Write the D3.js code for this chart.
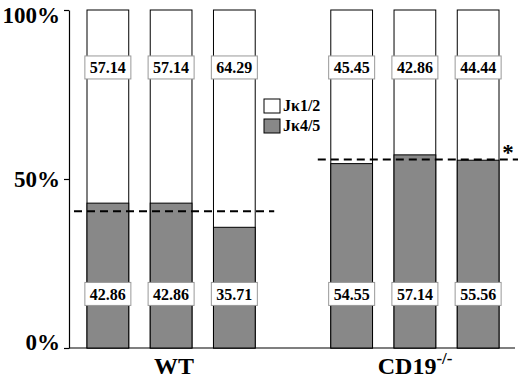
<!DOCTYPE html>
<html>
<head>
<meta charset="utf-8">
<script src="https://cdn.jsdelivr.net/npm/d3@7"></script>
<style>
  body { margin: 0; background: #fff; }
  text { font-family: "Liberation Serif", "Times New Roman", serif; font-weight: bold; }
</style>
</head>
<body>
<div id="chart"></div>
<script>
// data
var groups = ["WT", "CD19"];
var mice = ["m1", "m2", "m3"];
var wt_jk45 = [42.86, 42.86, 35.71];
var wt_jk12 = [57.14, 57.14, 64.29];
var cd19_jk45 = [54.55, 57.14, 55.56];
var cd19_jk12 = [45.45, 42.86, 44.44];
var y_ticks = [0, 50, 100];
var legend_labels = ["J\u03BA1/2", "J\u03BA4/5"];

var width = 520, height = 380;
var gray = "#888888";

var rows = [];
wt_jk45.forEach(function(v, i) {
    rows.push({group: "WT", mouse: mice[i], low: v, high: wt_jk12[i]});
});
cd19_jk45.forEach(function(v, i) {
    rows.push({group: "CD19", mouse: mice[i], low: v, high: cd19_jk12[i]});
});

var svg = d3.select("#chart").append("svg")
    .attr("width", width)
    .attr("height", height);

// scales
var y_scale = d3.scaleLinear().domain([0, 100]).range([348, 10]);
var x0 = d3.scaleBand().domain(groups).range([87, 499]).paddingInner(0.31);
var x1 = d3.scaleBand().domain(mice).range([0, x0.bandwidth()]).paddingInner(0.34);

// y axis
var y_axis = d3.axisLeft(y_scale)
    .tickValues(y_ticks)
    .tickFormat(function(d) { return d + "%"; })
    .tickSize(5)
    .tickSizeOuter(0)
    .tickPadding(4);

var ya = svg.append("g")
    .attr("transform", "translate(69,0)")
    .call(y_axis);
ya.selectAll("text")
    .style("font-size", "23px")
    .attr("fill", "#000");
ya.selectAll("text").filter(function(d) { return d === 100; }).attr("dy", "0.55em");
ya.selectAll("text").filter(function(d) { return d === 0; }).attr("dy", "0.05em");
ya.selectAll("line, path").attr("stroke", "#000").attr("stroke-width", 1.2);

// x baseline
svg.append("line")
    .attr("x1", 69).attr("x2", 515)
    .attr("y1", y_scale(0)).attr("y2", y_scale(0))
    .attr("stroke", "#000").attr("stroke-width", 1.2);

// bars
var bars = svg.append("g").selectAll("g")
    .data(rows)
    .enter().append("g")
    .attr("transform", function(d) { return "translate(" + (x0(d.group) + x1(d.mouse)) + ",0)"; });

bars.append("rect")
    .attr("x", 0)
    .attr("y", y_scale(100))
    .attr("width", x1.bandwidth())
    .attr("height", y_scale(0) - y_scale(100))
    .attr("fill", "#fff")
    .attr("stroke", "#000")
    .attr("stroke-width", 1);

bars.append("rect")
    .attr("x", 0)
    .attr("y", function(d) { return y_scale(d.low); })
    .attr("width", x1.bandwidth())
    .attr("height", function(d) { return y_scale(0) - y_scale(d.low); })
    .attr("fill", gray)
    .attr("stroke", "#000")
    .attr("stroke-width", 1);

// value boxes
var box_w = 46, box_h = 23;
function add_box(sel, ypos, key) {
    var g = sel.append("g")
        .attr("transform", "translate(" + (x1.bandwidth() / 2) + "," + y_scale(ypos) + ")");
    g.append("rect")
        .attr("x", -box_w / 2).attr("y", -box_h / 2)
        .attr("width", box_w).attr("height", box_h)
        .attr("fill", "#fff")
        .attr("stroke", "#999")
        .attr("stroke-width", 1);
    g.append("text")
        .attr("text-anchor", "middle")
        .attr("dy", "0.36em")
        .style("font-size", "16px")
        .text(function(d) { return d[key].toFixed(2); });
}
add_box(bars, 83, "high");
add_box(bars, 16, "low");

// mean dashed lines
var means = [
    {group: "WT", v: d3.mean(wt_jk45)},
    {group: "CD19", v: d3.mean(cd19_jk45)}
];
svg.append("g").selectAll("line")
    .data(means)
    .enter().append("line")
    .attr("x1", function(d) { return x0(d.group) - 13; })
    .attr("x2", function(d) { return x0(d.group) + x0.bandwidth() + 19; })
    .attr("y1", function(d) { return y_scale(d.v); })
    .attr("y2", function(d) { return y_scale(d.v); })
    .attr("stroke", "#000")
    .attr("stroke-width", 2)
    .attr("stroke-dasharray", "8,5");

svg.append("text")
    .attr("x", x0("CD19") + x0.bandwidth() + 9)
    .attr("y", y_scale(d3.mean(cd19_jk45)))
    .attr("text-anchor", "middle")
    .style("font-size", "23px")
    .text("*");

// group labels
svg.append("text")
    .attr("x", x0("WT") + x0.bandwidth() / 2 + 3)
    .attr("y", 374)
    .attr("text-anchor", "middle")
    .style("font-size", "24px")
    .text("WT");

var cd = svg.append("text")
    .attr("x", x0("CD19") + 47)
    .attr("y", 374)
    .style("font-size", "24px");
cd.append("tspan").text("CD19");
cd.append("tspan")
    .attr("dy", -10)
    .style("font-size", "17px")
    .text("-/-");

// legend
var legend = svg.append("g")
    .attr("class", "legend")
    .attr("transform", "translate(264,99)");

var items = legend.selectAll("g")
    .data(legend_labels)
    .enter().append("g")
    .attr("transform", function(d, i) { return "translate(0," + (i * 20) + ")"; });

items.append("rect")
    .attr("width", 16)
    .attr("height", 14)
    .attr("fill", function(d, i) { return i === 0 ? "#fff" : gray; })
    .attr("stroke", "#000")
    .attr("stroke-width", 1);

items.append("text")
    .attr("x", 19)
    .attr("y", 12)
    .style("font-size", "16px")
    .text(function(d) { return d; });
</script>
</body>
</html>
